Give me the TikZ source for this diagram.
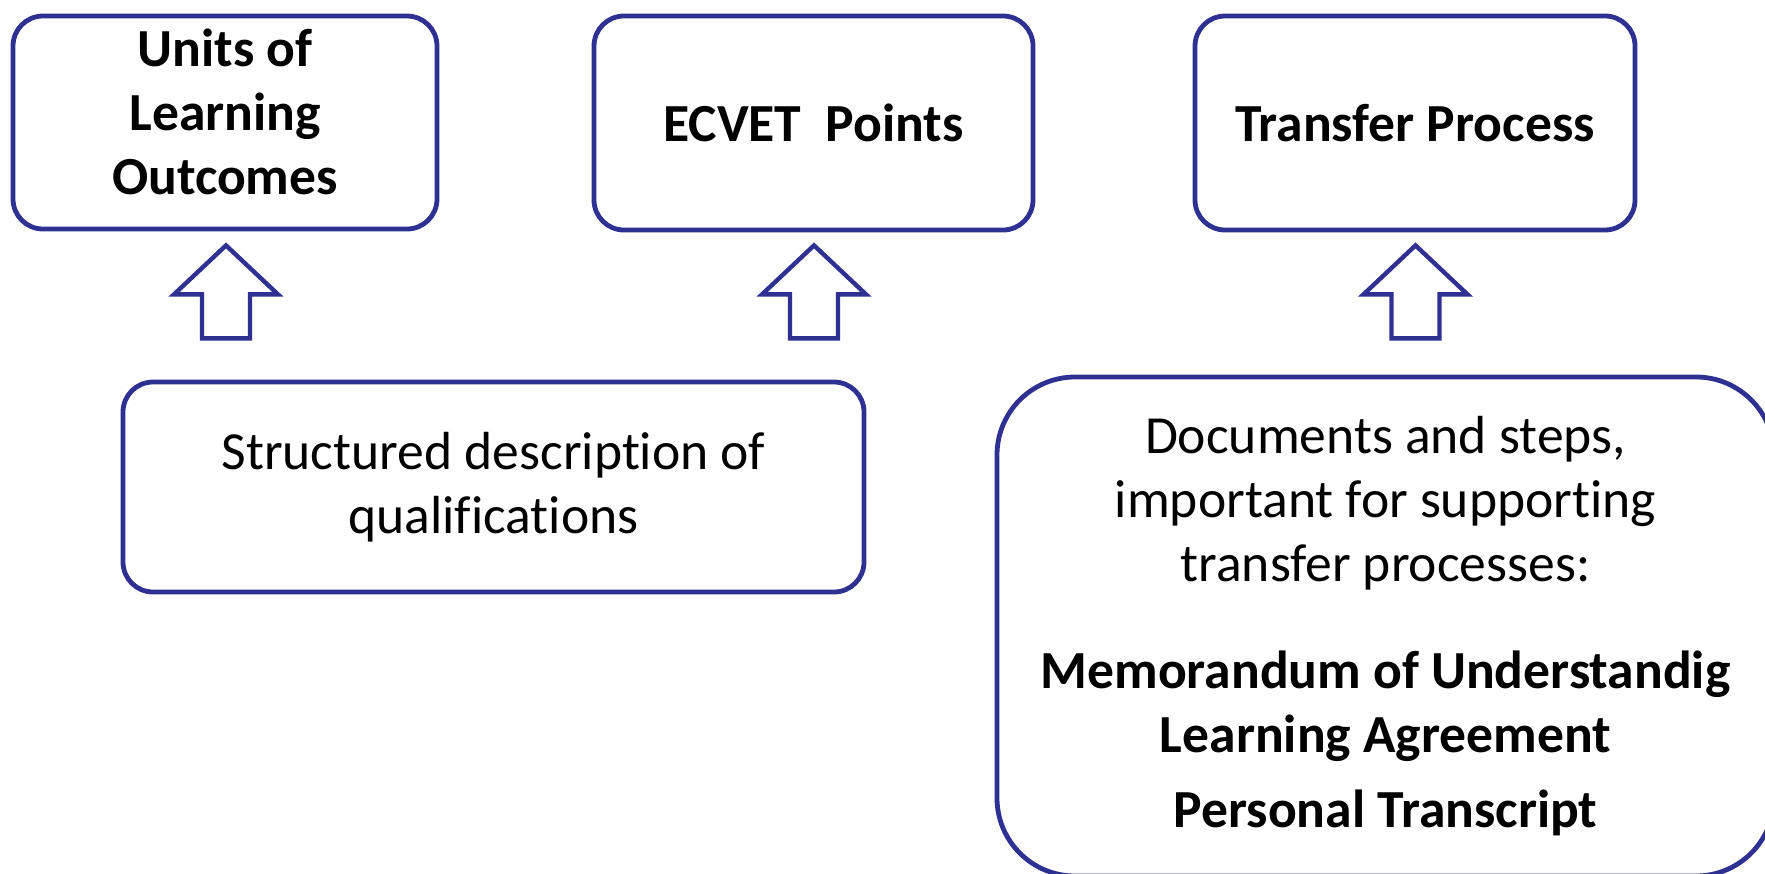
\documentclass[tikz,border=0pt]{standalone}
\usepackage{fontspec}
\setmainfont{Carlito}[Ligatures=NoCommon]
\usetikzlibrary{calc}
\definecolor{boxblue}{RGB}{46,49,146}
\begin{document}
\begin{tikzpicture}[x=0.5pt,y=-0.5pt,
  box/.style={draw=boxblue, line width=2.4pt, rounded corners=15pt, inner sep=0pt, align=center,
    font=\fontsize{26.8pt}{32pt}\selectfont},
  boxtext/.style={inner sep=0pt, align=center, font=\fontsize{26.8pt}{32pt}\selectfont\bfseries},
  arrowline/.style={draw=boxblue, line width=2.2pt, fill=white, line join=miter},
  uparr/.pic={\path[arrowline] (0,0) -- (52,49) -- (24,49) -- (24,93) -- (-24,93) -- (-24,49) -- (-52,49) -- cycle;}
]
\clip (0,0) rectangle (1765,873);
\fill[white] (0,0) rectangle (1765,873);

\node[box, minimum width=212pt, minimum height=106.5pt] (b1) at (225,122.5) {};
\node[boxtext] (t1) at ($(b1.center)+(0,-11)$) {Units of\\ Learning\\ Outcomes};
\node[box, minimum width=219.5pt, minimum height=107pt] (b2) at (813.5,123)
  {\bfseries ECVET~~Points};
\node[box, minimum width=220pt, minimum height=107pt] (b3) at (1415,123)
  {\bfseries Transfer Process};
\node[box, minimum width=370.5pt, minimum height=105pt] (b4) at (493.5,487)
  {Structured description of\\ qualifications};
\node[box, rounded corners=39pt, minimum width=388.5pt, minimum height=249.5pt,
  font=\fontsize{26.8pt}{31.8pt}\selectfont] (b5) at (1385.5,626.5)
  {Documents and steps,\\ important for supporting\\ transfer processes:\\[22pt]
   \textbf{Memorandum of Understandig}\\[0pt]
   \textbf{Learning Agreement}\\[6pt]
   \textbf{Personal Transcript}};

\pic at ($(b1.south)+(1,14)$) {uparr};
\pic at ($(b2.south)+(0.5,13)$) {uparr};
\pic at ($(b3.south)+(0.5,13)$) {uparr};
\end{tikzpicture}
\end{document}
